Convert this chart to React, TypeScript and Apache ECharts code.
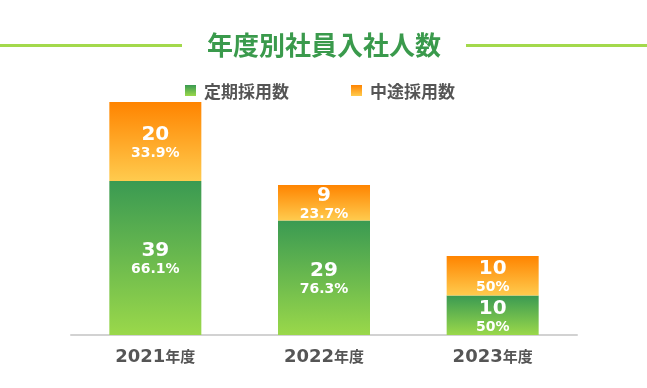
import React, { useEffect, useRef } from "react";
import * as echarts from "echarts";

const categories = ["2021", "2022", "2023"];
const regularHires = [39, 29, 10];
const midCareerHires = [20, 9, 10];
const seriesNames = ["定期採用数", "中途採用数"];
const titleText = "年度別社員入社人数";

const fmtPct = (v: number, total: number) => {
  const p = ((v / total) * 100).toFixed(1);
  return (p.endsWith(".0") ? p.slice(0, -2) : p) + "%";
};

export default function App() {
  const ref = useRef<HTMLDivElement>(null);
  useEffect(() => {
    if (!ref.current) return;
    const chart = echarts.init(ref.current, undefined, { renderer: "svg" });
    const totals = categories.map((_, i) => regularHires[i] + midCareerHires[i]);
    const green = new echarts.graphic.LinearGradient(0, 0, 0, 1, [
      { offset: 0, color: "#3a9a52" },
      { offset: 1, color: "#9ad84a" },
    ]);
    const orange = new echarts.graphic.LinearGradient(0, 0, 0, 1, [
      { offset: 0, color: "#ff8400" },
      { offset: 1, color: "#ffcb4e" },
    ]);
    const labelCfg = (arr: number[]) => ({
      show: true,
      position: "inside" as const,
      formatter: (p: any) =>
        `{v|${p.value}}\n{p|${fmtPct(arr[p.dataIndex], totals[p.dataIndex])}}`,
      rich: {
        v: {
          color: "#fff",
          fontSize: 20,
          fontWeight: "bold",
          fontFamily: "DejaVu Sans",
          lineHeight: 21,
          align: "center",
        },
        p: {
          color: "#fff",
          fontSize: 14,
          fontWeight: "bold",
          fontFamily: "DejaVu Sans",
          lineHeight: 17,
          align: "center",
        },
      },
    });
    chart.setOption({
      animation: false,
      graphic: [
        {
          type: "rect",
          shape: { x: 0, y: 44, width: 182, height: 3 },
          style: { fill: "#a3d94c" },
        },
        {
          type: "rect",
          shape: { x: 466, y: 44, width: 181, height: 3 },
          style: { fill: "#a3d94c" },
        },
        {
          type: "text",
          x: 324,
          y: 43,
          style: {
            text: titleText,
            fill: "#3a9a4c",
            font: 'bold 26px "Noto Sans CJK JP"',
            align: "center",
            verticalAlign: "middle",
          },
        },
      ],
      legend: {
        top: 77,
        left: 180,
        itemWidth: 11,
        itemHeight: 11,
        itemGap: 62,
        icon: "rect",
        data: seriesNames,
        textStyle: {
          color: "#555",
          fontSize: 17,
          fontWeight: "bold",
          fontFamily: "Noto Sans CJK JP",
          padding: [0, 0, 0, 3],
        },
      },
      grid: { left: 71, right: 70, top: 102, bottom: 53 },
      xAxis: {
        type: "category",
        data: categories,
        axisLine: { lineStyle: { color: "#d2d2d2", width: 2 } },
        axisTick: { show: false },
        axisLabel: {
          margin: 11,
          formatter: (v: string) => `{y|${v}}{n|年度}`,
          rich: {
            y: {
              fontSize: 18,
              fontWeight: "bold",
              fontFamily: "DejaVu Sans",
              color: "#555",
            },
            n: {
              fontSize: 15,
              fontWeight: "bold",
              fontFamily: "Noto Sans CJK JP",
              color: "#555",
            },
          },
        },
      },
      yAxis: { type: "value", min: 0, max: 59, show: false, splitLine: { show: false } },
      series: [
        {
          name: seriesNames[0],
          type: "bar",
          stack: "a",
          barWidth: 92,
          data: regularHires,
          itemStyle: { color: green },
          label: labelCfg(regularHires),
        },
        {
          name: seriesNames[1],
          type: "bar",
          stack: "a",
          barWidth: 92,
          data: midCareerHires,
          itemStyle: { color: orange },
          label: labelCfg(midCareerHires),
        },
      ],
    });
    return () => chart.dispose();
  }, []);
  return (
    <div style={{ position: "fixed", left: 0, top: 0 }}>
      <div ref={ref} style={{ width: 647, height: 388 }} />
    </div>
  );
}
